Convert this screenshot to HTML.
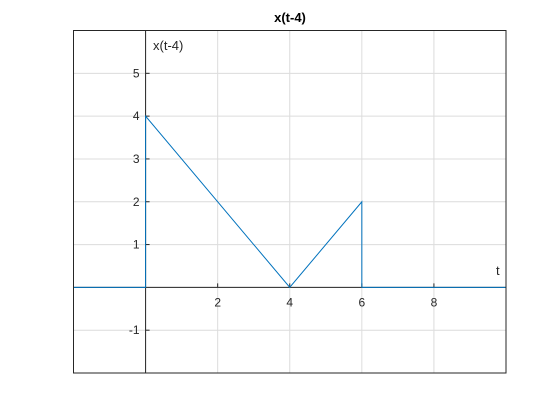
<!DOCTYPE html>
<html><head><meta charset="utf-8"><style>
body{margin:0;background:#fff;}
svg{display:block;font-family:"Liberation Sans",sans-serif;}
</style></head><body>
<svg id="chart" width="560" height="420">
<rect x="0" y="0" width="560" height="420" fill="#fff"/>
<text x="290" y="22" text-anchor="middle" font-size="13" font-weight="bold" fill="#000">x(t-4)</text>
<g id="grid"></g>
<g id="axes"></g>
<g id="series"></g>
<rect x="73.5" y="30.5" width="432.5" height="342.5" fill="none" stroke="#262626" stroke-width="1"/>
<text x="153" y="50" font-size="13" fill="#262626">x(t-4)</text>
<text x="496" y="275" font-size="13" fill="#262626">t</text>
</svg>
<script>
const tValues=[-2,0,0,4,6,6,10];
const xValues=[0,0,4,0,2,0,0];
const xTicks=[2,4,6,8];
const yTicks=[-1,1,2,3,4,5];
const xGrid=[0,2,4,6,8];
const yGrid=[-1,0,1,2,3,4,5];
const X0=73.5,X1=506,XMIN=-2,XMAX=10,Y0=373,Y1=30.5,YMIN=-2,YMAX=6;
const sx=v=>X0+(v-XMIN)/(XMAX-XMIN)*(X1-X0);
const sy=v=>Y0-(v-YMIN)/(YMAX-YMIN)*(Y0-Y1);
const NS="http://www.w3.org/2000/svg";
function mk(t,a,p){const e=document.createElementNS(NS,t);for(const k in a)e.setAttribute(k,a[k]);p.appendChild(e);return e;}
const g=document.getElementById('grid'),ax=document.getElementById('axes'),s=document.getElementById('series');
xGrid.forEach(v=>{const l=mk('line',{x1:sx(v),x2:sx(v),y1:Y1,y2:Y0,stroke:'#dcdcdc','stroke-width':1},g);

});
yGrid.forEach(v=>{const l=mk('line',{x1:X0,x2:X1,y1:sy(v),y2:sy(v),stroke:'#dcdcdc','stroke-width':1},g);

});
const xa=mk('line',{x1:X0,x2:X1,y1:sy(0),y2:sy(0),stroke:'#262626'},ax);


const ya=mk('line',{x1:sx(0),x2:sx(0),y1:Y1,y2:Y0,stroke:'#262626'},ax);


xTicks.forEach(v=>{mk('line',{x1:sx(v),x2:sx(v),y1:sy(0),y2:sy(0)-4,stroke:'#262626'},ax);
const t=mk('text',{x:sx(v),y:sy(0)+19,'text-anchor':'middle','font-size':12,fill:'#262626'},ax);t.textContent=v;

});
yTicks.forEach(v=>{mk('line',{x1:sx(0),x2:sx(0)+4,y1:sy(v),y2:sy(v),stroke:'#262626'},ax);
const t=mk('text',{x:sx(0)-6,y:sy(v)+4,'text-anchor':'end','font-size':12,fill:'#262626'},ax);t.textContent=v;

});
const pl=mk('polyline',{points:tValues.map((t,i)=>sx(t)+','+sy(xValues[i])).join(' '),fill:'none',stroke:'#0072bd','stroke-width':1},s);


</script>
</body></html>
